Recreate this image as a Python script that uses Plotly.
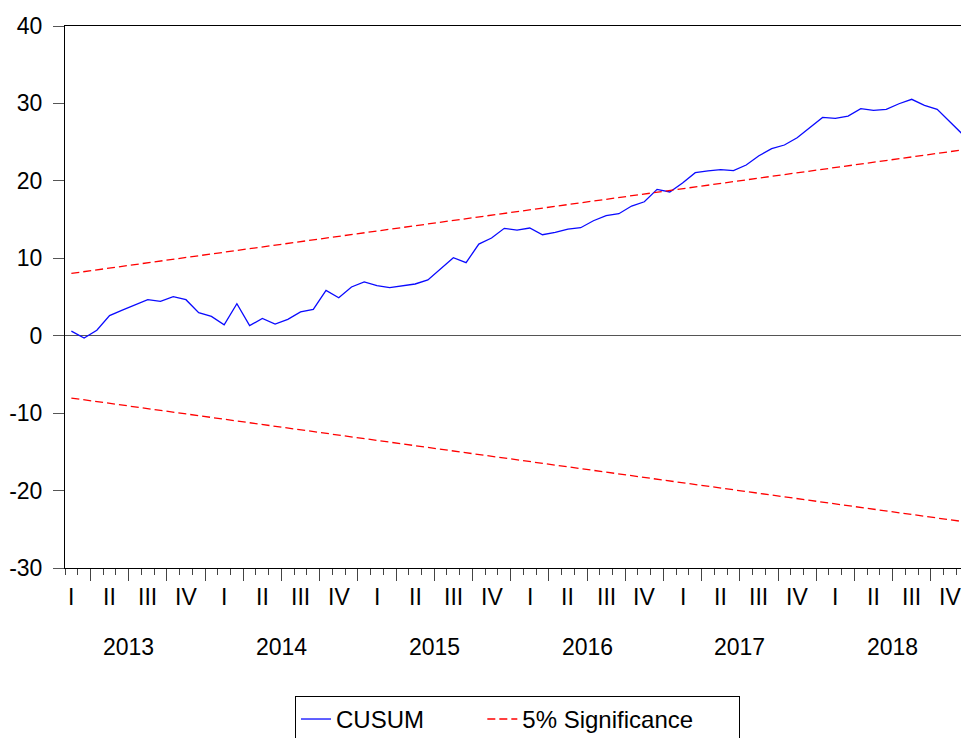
import plotly.graph_objects as go

# monthly CUSUM, Feb 2013 .. Dec 2018
months = ['2013-02', '2013-03', '2013-04', '2013-05', '2013-06', '2013-07', '2013-08', '2013-09', '2013-10', '2013-11', '2013-12',
          '2014-01', '2014-02', '2014-03', '2014-04', '2014-05', '2014-06', '2014-07', '2014-08', '2014-09', '2014-10', '2014-11', '2014-12',
          '2015-01', '2015-02', '2015-03', '2015-04', '2015-05', '2015-06', '2015-07', '2015-08', '2015-09', '2015-10', '2015-11', '2015-12',
          '2016-01', '2016-02', '2016-03', '2016-04', '2016-05', '2016-06', '2016-07', '2016-08', '2016-09', '2016-10', '2016-11', '2016-12',
          '2017-01', '2017-02', '2017-03', '2017-04', '2017-05', '2017-06', '2017-07', '2017-08', '2017-09', '2017-10', '2017-11', '2017-12',
          '2018-01', '2018-02', '2018-03', '2018-04', '2018-05', '2018-06', '2018-07', '2018-08', '2018-09', '2018-10', '2018-11', '2018-12']
cusum = [0.6, -0.3, 0.7, 2.6, 3.3, 4.0, 4.65, 4.44, 5.04, 4.65, 2.97,
         2.5, 1.42, 4.13, 1.3, 2.24, 1.51, 2.12, 3.08, 3.41, 5.86, 4.9, 6.29,
         6.95, 6.48, 6.22, 6.46, 6.68, 7.2, 8.61, 10.07, 9.43, 11.84, 12.62, 13.87,
         13.65, 13.91, 13.04, 13.35, 13.78, 13.95, 14.85, 15.5, 15.76, 16.75, 17.3, 18.9,
         18.56, 19.72, 21.05, 21.3, 21.44, 21.31, 22.05, 23.25, 24.15, 24.63, 25.57, 26.9,
         28.2, 28.08, 28.37, 29.32, 29.1, 29.24, 29.96, 30.53, 29.76, 29.24, 27.64, 26.0]
# 5% bounds are straight lines: values at first and last month
bound_months = ['2013-02', '2018-12']
upper = [8.05, 24.0]
lower = [-8.05, -24.0]

years = ['2013', '2014', '2015', '2016', '2017', '2018']
quarters = ['I', 'II', 'III', 'IV']
ytick_vals = [-30, -20, -10, 0, 10, 20, 30, 40]
ytick_text = ['-30', '-20', '-10', '0', '10', '20', '30', '40']

FONT = 'Arial, Liberation Sans, sans-serif'
NB = '\u00a0'


def month_pos(s):
    # month index from Jan 2013, plotted at the middle of the month
    y, m = s.split('-')
    return (int(y) - 2013) * 12 + int(m) - 1 + 0.5


x_cusum = [month_pos(s) for s in months]
x_bound = [month_pos(s) for s in bound_months]

fig = go.Figure()
fig.add_trace(go.Scatter(
    x=x_cusum, y=cusum, name='CUSUM' + NB * 8, mode='lines',
    line={'color': '#0a0aff', 'width': 1.3},
))
fig.add_trace(go.Scatter(
    x=x_bound, y=upper, name='5% Significance' + NB * 6, mode='lines',
    line={'color': '#ff0000', 'width': 1.3, 'dash': '8px,4px'},
))
fig.add_trace(go.Scatter(
    x=x_bound, y=lower, name='5% Significance', mode='lines', showlegend=False,
    line={'color': '#ff0000', 'width': 1.3, 'dash': '8px,4px'},
))

annotations = []
for i, yr in enumerate(years):
    for j, q in enumerate(quarters):
        annotations.append(dict(
            x=i * 12 + j * 3 + 1.5, y=-0.0535, xref='x', yref='paper',
            text=q, showarrow=False, yanchor='middle',
            font={'family': FONT, 'size': 23, 'color': 'black'},
        ))
    annotations.append(dict(
        x=i * 12 + 6, y=-0.146, xref='x', yref='paper',
        text=yr, showarrow=False, yanchor='middle',
        font={'family': FONT, 'size': 23, 'color': 'black'},
    ))

fig.update_layout(
    width=961,
    height=738,
    # legend runs off the bottom edge like the original, don't let it push the margins
    margin={'t': 26, 'l': 65, 'r': 0, 'b': 170, 'autoexpand': False},
    plot_bgcolor='white',
    paper_bgcolor='white',
    font={'family': FONT, 'size': 23, 'color': 'black'},
    showlegend=True,
    legend={
        'orientation': 'h',
        'x': 0.505, 'xanchor': 'center',
        'y': -0.236, 'yanchor': 'top',
        'bordercolor': 'black', 'borderwidth': 1,
        'font': {'family': FONT, 'size': 24},
    },
    annotations=annotations,
    xaxis={
        'range': [1.0, 71.37],
        'showgrid': False,
        'zeroline': False,
        'showline': True, 'linecolor': 'black', 'linewidth': 1, 'mirror': True,
        'tickmode': 'array',
        'tickvals': list(range(3, 72, 3)),
        'showticklabels': False,
        'ticks': 'outside', 'ticklen': 12, 'tickcolor': '#444', 'tickwidth': 1,
        'minor': {
            'tickmode': 'array', 'tickvals': list(range(1, 72)),
            'ticks': 'outside', 'ticklen': 6, 'tickcolor': '#444', 'tickwidth': 1,
        },
    },
    yaxis={
        'range': [-30, 40],
        'tickmode': 'array',
        'tickvals': ytick_vals,
        'ticktext': ytick_text,
        'showgrid': False,
        'zeroline': True, 'zerolinecolor': '#555', 'zerolinewidth': 1,
        'showline': True, 'linecolor': 'black', 'linewidth': 1,
        'ticks': 'outside', 'ticklen': 11, 'tickcolor': '#555', 'tickwidth': 1,
        'ticklabelstandoff': 6,
    },
)

# drop the default 8px body margin so the figure fills the window exactly
fig.write_html('out.html', config={'displayModeBar': False},
               post_script="document.body.style.margin = '0';")
